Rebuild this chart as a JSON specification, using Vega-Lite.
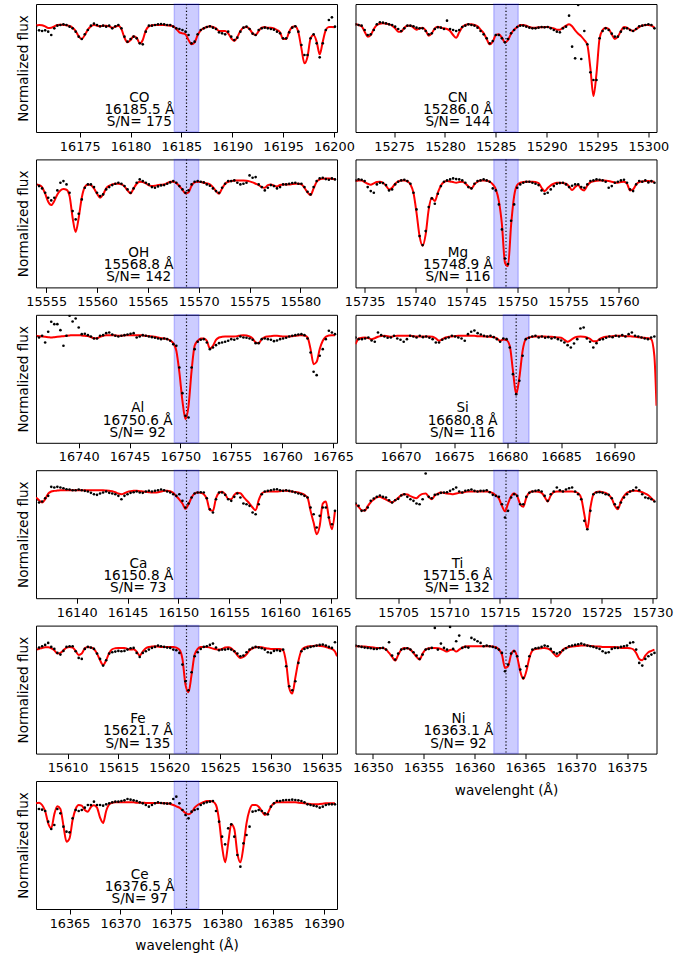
{"$schema":"https://vega.github.io/schema/vega-lite/v6.json",
"padding":{"left":16,"top":2,"right":0,"bottom":0},
"columns":2,"spacing":{"row":27.4,"column":18.5},"bounds":"flush",
"data":{"name":"s"},
"datasets":{"s":[
{"p":"CO","c":16185.5,"lo":16184.3,"hi":16186.7,"lab":["CO","16185.5 Å","S/N= 175"],
"x":[16170.7,16171,16171.3,16171.6,16171.9,16172.2,16172.5,16172.8,16173.1,16173.4,16173.7,16174,16174.3,16174.6,16174.9,16175.2,16175.5,16175.8,16176.1,16176.4,16176.7,16177,16177.3,16177.6,16177.9,16178.2,16178.5,16178.8,16179.1,16179.4,16179.7,16180,16180.3,16180.6,16180.9,16181.2,16181.5,16181.8,16182.1,16182.4,16182.7,16183,16183.3,16183.6,16183.9,16184.2,16184.5,16184.8,16185.1,16185.4,16185.7,16186,16186.3,16186.6,16186.9,16187.2,16187.5,16187.8,16188.1,16188.4,16188.7,16189,16189.3,16189.6,16189.9,16190.2,16190.5,16190.8,16191.1,16191.4,16191.7,16192,16192.3,16192.6,16192.9,16193.2,16193.5,16193.8,16194.1,16194.4,16194.7,16195,16195.3,16195.6,16195.9,16196.2,16196.5,16196.8,16197.1,16197.4,16197.7,16198,16198.3,16198.6,16198.9,16199.2,16199.5,16199.8,16200.1],
"m":[0.997,1.003,1.0,0.991,0.976,0.979,0.991,1.003,1.006,1.003,1.0,0.994,0.979,0.949,0.901,0.877,0.913,0.961,0.991,1.003,0.997,0.991,0.997,0.997,0.991,0.979,0.988,0.997,0.967,0.889,0.847,0.868,0.901,0.889,0.838,0.868,0.955,0.991,1.0,1.003,1.003,1.003,1.003,1.0,0.997,0.991,0.967,0.937,0.928,0.919,0.868,0.829,0.847,0.913,0.955,0.973,0.985,0.991,0.985,0.973,0.949,0.949,0.949,0.928,0.883,0.859,0.895,0.949,0.979,0.985,0.967,0.928,0.913,0.949,0.979,0.985,0.979,0.979,0.973,0.958,0.937,0.877,0.877,0.943,0.985,0.991,0.937,0.793,0.658,0.718,0.883,0.913,0.853,0.739,0.853,0.958,0.985,0.985,0.982],
"o":[0.988,0.955,0.949,0.955,0.943,0.913,0.973,0.997,1.003,1.009,1.003,0.988,0.973,0.943,0.898,0.877,0.919,0.958,0.997,1.015,1.003,0.991,0.997,0.988,0.997,0.973,0.991,1.003,0.973,0.898,0.853,0.877,0.898,0.883,0.838,0.829,0.943,0.997,0.997,1.003,1.009,1.012,1.009,1.003,1.003,0.988,0.973,0.967,0.958,0.943,0.913,0.838,0.853,0.919,0.958,0.973,0.985,0.991,0.979,0.967,0.937,0.928,0.919,0.943,0.898,0.868,0.889,0.943,0.979,0.988,0.967,0.925,0.913,0.958,0.973,0.979,0.973,0.967,0.961,0.943,0.928,0.883,0.883,0.937,0.979,0.991,0.943,0.823,0.733,0.733,0.883,0.919,0.838,0.712,0.838,0.958,1.048,1.072,0.988]},
{"p":"CN","c":15286.0,"lo":15284.8,"hi":15287.2,"lab":["CN","15286.0 Å","S/N= 144"],
"x":[15271.2,15271.5,15271.8,15272.1,15272.4,15272.7,15273,15273.3,15273.6,15273.9,15274.2,15274.5,15274.8,15275.1,15275.4,15275.7,15276,15276.3,15276.6,15276.9,15277.2,15277.5,15277.8,15278.1,15278.4,15278.7,15279,15279.3,15279.6,15279.9,15280.2,15280.5,15280.8,15281.1,15281.4,15281.7,15282,15282.3,15282.6,15282.9,15283.2,15283.5,15283.8,15284.1,15284.4,15284.7,15285,15285.3,15285.6,15285.9,15286.2,15286.5,15286.8,15287.1,15287.4,15287.7,15288,15288.3,15288.6,15288.9,15289.2,15289.5,15289.8,15290.1,15290.4,15290.7,15291,15291.3,15291.6,15291.9,15292.2,15292.5,15292.8,15293.1,15293.4,15293.7,15294,15294.3,15294.6,15294.9,15295.2,15295.5,15295.8,15296.1,15296.4,15296.7,15297,15297.3,15297.6,15297.9,15298.2,15298.5,15298.8,15299.1,15299.4,15299.7,15300,15300.3,15300.6],
"m":[1.009,1.003,0.991,0.943,0.898,0.913,0.967,1.003,1.015,1.018,1.015,1.009,0.997,0.973,0.943,0.943,0.979,0.997,0.997,0.979,0.961,0.973,0.979,0.955,0.907,0.928,0.973,0.988,0.979,0.973,0.967,0.949,0.913,0.889,0.937,0.985,1.003,1.009,1.009,1.003,0.991,0.961,0.931,0.877,0.829,0.853,0.913,0.919,0.889,0.847,0.868,0.925,0.961,0.985,1.003,1.003,0.997,0.985,0.979,0.979,0.982,0.982,0.985,0.985,0.979,0.973,0.961,0.961,0.979,0.997,1.009,0.991,0.955,0.925,0.901,0.868,0.823,0.613,0.364,0.568,0.88,0.958,0.979,0.967,0.919,0.877,0.898,0.949,0.985,0.979,0.961,0.949,0.967,0.985,0.997,1.003,1.003,0.997,0.979],
"o":[1.009,1.003,0.997,0.958,0.913,0.919,0.958,1.009,1.027,1.024,1.018,1.009,1.003,0.988,0.967,0.949,0.973,0.997,0.997,0.991,0.979,0.973,0.973,0.949,0.919,0.928,0.967,0.982,0.979,0.967,1.042,0.967,0.958,0.949,0.958,0.985,0.997,1.009,1.003,0.997,0.979,0.949,0.919,0.883,0.838,0.859,0.913,0.913,0.883,0.847,0.877,0.928,0.958,0.985,0.997,0.997,0.988,0.979,0.973,0.973,0.979,0.985,0.982,0.985,0.973,0.958,0.943,0.937,0.973,0.988,1.087,0.808,0.703,1.183,0.697,0.949,0.829,0.577,0.508,0.508,0.883,0.949,0.973,0.958,0.925,0.898,0.898,0.943,0.973,0.973,0.958,0.949,0.967,0.991,0.997,1.003,1.009,1.003,0.973]},
{"p":"OH","c":15568.8,"lo":15567.6,"hi":15570.0,"lab":["OH","15568.8 Å","S/N= 142"],
"x":[15554,15554.3,15554.6,15554.9,15555.2,15555.5,15555.8,15556.1,15556.4,15556.7,15557,15557.3,15557.6,15557.9,15558.2,15558.5,15558.8,15559.1,15559.4,15559.7,15560,15560.3,15560.6,15560.9,15561.2,15561.5,15561.8,15562.1,15562.4,15562.7,15563,15563.3,15563.6,15563.9,15564.2,15564.5,15564.8,15565.1,15565.4,15565.7,15566,15566.3,15566.6,15566.9,15567.2,15567.5,15567.8,15568.1,15568.4,15568.7,15569,15569.3,15569.6,15569.9,15570.2,15570.5,15570.8,15571.1,15571.4,15571.7,15572,15572.3,15572.6,15572.9,15573.2,15573.5,15573.8,15574.1,15574.4,15574.7,15575,15575.3,15575.6,15575.9,15576.2,15576.5,15576.8,15577.1,15577.4,15577.7,15578,15578.3,15578.6,15578.9,15579.2,15579.5,15579.8,15580.1,15580.4,15580.7,15581,15581.3,15581.6,15581.9,15582.2,15582.5,15582.8,15583.1,15583.4],
"m":[0.967,0.961,0.943,0.883,0.811,0.781,0.817,0.877,0.913,0.925,0.919,0.862,0.667,0.538,0.667,0.847,0.943,0.967,0.961,0.931,0.883,0.847,0.877,0.931,0.955,0.967,0.973,0.973,0.967,0.949,0.913,0.886,0.931,0.973,0.991,0.988,0.976,0.958,0.952,0.955,0.961,0.964,0.967,0.979,0.991,0.991,0.979,0.952,0.919,0.886,0.895,0.955,0.985,0.991,0.988,0.982,0.976,0.967,0.943,0.907,0.883,0.931,0.973,0.991,0.997,1.0,1.003,1.003,1.003,1.0,0.994,0.985,0.973,0.961,0.943,0.937,0.961,0.967,0.955,0.949,0.961,0.967,0.967,0.967,0.970,0.973,0.973,0.967,0.937,0.895,0.871,0.931,0.991,1.012,1.018,1.021,1.021,1.018,1.012],
"o":[0.967,0.952,0.931,0.892,0.847,0.823,0.847,0.913,0.982,0.997,0.967,0.892,0.727,0.652,0.703,0.832,0.937,0.967,0.967,0.943,0.892,0.862,0.877,0.922,0.943,0.961,0.973,0.982,0.973,0.952,0.922,0.892,0.931,0.982,1.012,0.997,0.982,0.967,0.943,0.937,0.949,0.958,0.961,0.973,0.985,0.997,0.982,0.952,0.922,0.892,0.913,0.967,0.991,0.997,0.991,0.985,0.967,0.955,0.931,0.907,0.892,0.937,0.973,0.997,0.997,1.003,0.982,0.967,0.973,0.982,1.048,1.027,1.033,0.967,0.943,0.913,0.937,0.961,0.952,0.931,0.943,0.967,0.967,0.973,0.979,0.982,0.973,0.973,0.943,0.901,0.877,0.943,0.997,1.021,1.027,1.015,1.009,1.021,1.012]},
{"p":"Mg","c":15748.9,"lo":15747.7,"hi":15750.1,"lab":["Mg","15748.9 Å","S/N= 116"],
"x":[15734.1,15734.4,15734.7,15735,15735.3,15735.6,15735.9,15736.2,15736.5,15736.8,15737.1,15737.4,15737.7,15738,15738.3,15738.6,15738.9,15739.2,15739.5,15739.8,15740.1,15740.4,15740.7,15741,15741.3,15741.6,15741.9,15742.2,15742.5,15742.8,15743.1,15743.4,15743.7,15744,15744.3,15744.6,15744.9,15745.2,15745.5,15745.8,15746.1,15746.4,15746.7,15747,15747.3,15747.6,15747.9,15748.2,15748.5,15748.8,15749.1,15749.4,15749.7,15750,15750.3,15750.6,15750.9,15751.2,15751.5,15751.8,15752.1,15752.4,15752.7,15753,15753.3,15753.6,15753.9,15754.2,15754.5,15754.8,15755.1,15755.4,15755.7,15756,15756.3,15756.6,15756.9,15757.2,15757.5,15757.8,15758.1,15758.4,15758.7,15759,15759.3,15759.6,15759.9,15760.2,15760.5,15760.8,15761.1,15761.4,15761.7,15762,15762.3,15762.6,15762.9,15763.2,15763.5],
"m":[0.997,1.003,1.003,0.988,0.973,0.964,0.976,0.988,0.991,0.982,0.955,0.922,0.937,0.973,0.994,1.003,1.003,0.994,0.967,0.892,0.712,0.502,0.415,0.517,0.742,0.847,0.817,0.892,0.958,0.988,0.997,0.994,0.988,0.982,0.988,0.991,0.976,0.949,0.931,0.967,0.991,1.003,1.003,1.0,0.991,0.967,0.922,0.817,0.607,0.262,0.232,0.60,0.862,0.961,0.982,0.988,0.991,0.991,0.991,0.988,0.979,0.937,0.907,0.934,0.958,0.973,0.982,0.982,0.979,0.973,0.949,0.916,0.943,0.961,0.925,0.913,0.958,0.985,0.994,1.0,1.003,1.003,1.0,0.997,0.991,0.985,0.982,0.988,0.991,0.973,0.913,0.922,0.967,0.988,0.994,0.997,0.997,0.994,0.991],
"o":[1.003,1.012,1.009,0.997,0.943,0.907,0.892,0.967,0.982,0.979,0.961,0.913,0.922,0.967,0.991,1.003,1.009,0.997,0.973,0.892,0.742,0.502,0.421,0.547,0.763,0.841,0.793,0.883,0.952,0.991,1.003,1.012,1.021,1.015,1.012,1.003,0.982,0.943,0.931,0.973,0.997,1.003,1.012,1.003,0.991,0.931,0.913,0.787,0.562,0.30,0.25,0.64,0.787,0.937,0.967,0.982,0.991,0.991,0.982,0.973,0.961,0.913,0.883,0.892,0.922,0.952,0.973,0.979,0.982,0.967,0.943,0.955,0.967,0.967,0.943,0.937,0.967,0.997,1.003,1.012,1.009,1.003,0.991,0.937,0.952,0.982,0.991,1.003,1.009,0.982,0.922,0.907,0.967,0.997,0.991,1.003,0.985,0.997,0.982]},
{"p":"Al","c":16750.6,"lo":16749.4,"hi":16751.8,"lab":["Al","16750.6 Å","S/N= 92  "],
"x":[16735.8,16736.1,16736.4,16736.7,16737,16737.3,16737.6,16737.9,16738.2,16738.5,16738.8,16739.1,16739.4,16739.7,16740,16740.3,16740.6,16740.9,16741.2,16741.5,16741.8,16742.1,16742.4,16742.7,16743,16743.3,16743.6,16743.9,16744.2,16744.5,16744.8,16745.1,16745.4,16745.7,16746,16746.3,16746.6,16746.9,16747.2,16747.5,16747.8,16748.1,16748.4,16748.7,16749,16749.3,16749.6,16749.9,16750.2,16750.5,16750.8,16751.1,16751.4,16751.7,16752,16752.3,16752.6,16752.9,16753.2,16753.5,16753.8,16754.1,16754.4,16754.7,16755,16755.3,16755.6,16755.9,16756.2,16756.5,16756.8,16757.1,16757.4,16757.7,16758,16758.3,16758.6,16758.9,16759.2,16759.5,16759.8,16760.1,16760.4,16760.7,16761,16761.3,16761.6,16761.9,16762.2,16762.5,16762.8,16763.1,16763.4,16763.7,16764,16764.3,16764.6,16764.9,16765.2],
"m":[1.003,1.0,0.997,0.994,0.991,0.988,0.991,0.994,0.997,1.0,1.003,1.006,1.009,1.009,1.009,1.006,1.003,1.0,0.991,0.982,0.982,0.994,1.003,1.009,1.009,1.009,1.006,1.003,1.003,1.006,1.009,1.009,1.009,1.009,1.009,1.006,1.003,1.0,0.997,0.994,0.988,0.982,0.979,0.973,0.961,0.937,0.868,0.673,0.418,0.253,0.373,0.688,0.913,0.958,0.979,0.979,0.958,0.889,0.913,0.967,0.988,0.994,0.997,0.997,0.997,0.997,1.0,1.006,1.009,1.006,0.997,0.979,0.943,0.937,0.973,0.991,0.997,1.0,1.003,1.003,1.0,0.997,0.997,0.997,1.0,1.003,1.006,1.009,1.006,0.988,0.883,0.748,0.769,0.883,0.958,0.994,1.006,1.009,1.009],
"o":[0.997,0.988,1.003,0.943,1.039,1.129,1.108,1.108,1.054,0.913,1.003,1.183,1.132,1.159,1.078,1.018,1.021,1.009,0.997,0.979,0.979,1.003,1.009,1.027,1.033,1.015,1.003,0.997,1.003,1.009,1.015,1.021,1.027,0.988,0.997,1.009,1.003,0.997,0.991,0.985,0.979,0.973,0.979,0.973,0.958,0.928,0.913,0.718,0.487,0.283,0.268,0.718,0.883,0.949,0.967,0.973,0.943,0.883,0.898,0.919,0.937,0.943,0.949,0.958,0.973,0.967,0.979,0.997,0.988,0.985,0.979,0.967,0.937,0.937,0.973,0.979,0.973,0.967,0.955,0.961,0.973,0.979,0.985,0.997,1.003,1.009,1.015,1.018,1.009,0.979,0.853,0.679,0.649,0.823,0.883,0.973,1.048,1.033,1.018]},
{"p":"Si","c":16680.8,"lo":16679.6,"hi":16682.0,"lab":["Si","16680.8 Å","S/N= 116"],
"x":[16665.8,16666.1,16666.4,16666.7,16667,16667.3,16667.6,16667.9,16668.2,16668.5,16668.8,16669.1,16669.4,16669.7,16670,16670.3,16670.6,16670.9,16671.2,16671.5,16671.8,16672.1,16672.4,16672.7,16673,16673.3,16673.6,16673.9,16674.2,16674.5,16674.8,16675.1,16675.4,16675.7,16676,16676.3,16676.6,16676.9,16677.2,16677.5,16677.8,16678.1,16678.4,16678.7,16679,16679.3,16679.6,16679.9,16680.2,16680.5,16680.8,16681.1,16681.4,16681.7,16682,16682.3,16682.6,16682.9,16683.2,16683.5,16683.8,16684.1,16684.4,16684.7,16685,16685.3,16685.6,16685.9,16686.2,16686.5,16686.8,16687.1,16687.4,16687.7,16688,16688.3,16688.6,16688.9,16689.2,16689.5,16689.8,16690.1,16690.4,16690.7,16691,16691.3,16691.6,16691.9,16692.2,16692.5,16692.8,16693.1,16693.4,16693.7,16693.9],
"m":[0.928,0.979,0.985,0.988,0.982,0.973,0.982,0.994,1.0,1.003,1.0,0.994,1.0,1.003,1.003,1.003,1.003,1.003,1.0,0.997,0.997,0.997,0.997,0.997,0.994,0.979,0.958,0.973,0.988,0.994,0.997,1.0,1.003,1.003,1.003,1.003,1.003,1.003,1.0,1.0,0.997,0.997,0.994,0.991,0.979,0.958,0.970,0.964,0.913,0.688,0.478,0.628,0.868,0.973,0.988,0.994,0.997,0.997,0.997,0.997,0.994,0.994,0.991,0.988,0.985,0.967,0.949,0.964,0.985,0.994,0.997,0.994,0.988,0.976,0.955,0.955,0.976,0.988,0.994,0.997,1.0,1.003,1.003,1.003,1.0,1.0,0.997,0.994,0.991,0.988,0.985,0.982,0.973,0.823,0.373],
"o":[0.988,0.973,0.973,0.979,0.988,0.961,0.949,1.033,1.009,0.997,0.985,0.988,1.003,0.979,0.967,0.949,0.973,1.003,0.997,0.988,1.003,0.991,0.997,0.985,0.973,0.943,0.943,0.967,0.979,0.988,1.003,0.997,0.988,0.979,0.958,1.018,1.039,1.051,1.027,1.015,1.003,0.997,1.003,0.991,0.973,0.949,0.979,0.973,0.898,0.658,0.478,0.598,0.823,0.973,0.985,0.997,1.003,0.988,0.997,0.985,0.991,0.979,0.988,0.973,0.961,0.943,0.919,0.898,0.934,0.973,1.069,1.078,0.979,0.949,0.898,0.937,0.967,0.973,0.985,0.997,0.991,1.003,0.997,1.009,0.997,1.018,1.033,1.003,0.997,0.988,0.979,0.973,0.988,0.997]},
{"p":"Ca","c":16150.8,"lo":16149.6,"hi":16152.0,"lab":["Ca","16150.8 Å","S/N= 73  "],
"x":[16136,16136.3,16136.6,16136.9,16137.2,16137.5,16137.8,16138.1,16138.4,16138.7,16139,16139.3,16139.6,16139.9,16140.2,16140.5,16140.8,16141.1,16141.4,16141.7,16142,16142.3,16142.6,16142.9,16143.2,16143.5,16143.8,16144.1,16144.4,16144.7,16145,16145.3,16145.6,16145.9,16146.2,16146.5,16146.8,16147.1,16147.4,16147.7,16148,16148.3,16148.6,16148.9,16149.2,16149.5,16149.8,16150.1,16150.4,16150.7,16151,16151.3,16151.6,16151.9,16152.2,16152.5,16152.8,16153.1,16153.4,16153.7,16154,16154.3,16154.6,16154.9,16155.2,16155.5,16155.8,16156.1,16156.4,16156.7,16157,16157.3,16157.6,16157.9,16158.2,16158.5,16158.8,16159.1,16159.4,16159.7,16160,16160.3,16160.6,16160.9,16161.2,16161.5,16161.8,16162.1,16162.4,16162.7,16163,16163.3,16163.6,16163.9,16164.2,16164.5,16164.8,16165.1,16165.4],
"m":[0.946,0.922,0.901,0.931,0.982,1.0,1.006,1.009,1.012,1.012,1.012,1.012,1.012,1.012,1.012,1.012,1.012,1.012,1.012,1.012,1.012,1.012,1.012,1.009,1.006,1.003,0.994,0.982,0.976,0.985,0.997,1.003,1.006,1.006,1.003,1.0,0.997,0.994,0.991,0.991,0.994,1.0,1.006,1.006,1.003,0.988,0.958,0.928,0.892,0.844,0.886,0.946,0.982,0.991,0.988,0.976,0.931,0.832,0.826,0.940,0.988,0.997,0.976,0.934,0.931,0.970,0.988,0.985,0.952,0.922,0.892,0.856,0.832,0.922,0.982,0.997,1.0,1.0,1.0,1.0,1.003,1.006,1.006,1.003,1.0,0.997,0.991,0.982,0.970,0.946,0.826,0.721,0.616,0.691,0.892,0.910,0.766,0.661,0.826],
"o":[0.922,0.901,0.910,0.940,0.961,1.042,1.036,1.042,1.036,1.030,1.021,1.018,1.012,1.012,1.018,1.012,1.006,1.0,0.988,0.976,0.970,0.982,0.991,1.0,0.988,0.982,0.976,0.961,0.931,0.961,0.976,0.988,0.994,1.0,0.991,0.988,1.0,1.006,1.0,1.006,1.012,1.018,1.012,1.0,0.991,0.976,0.961,0.976,0.916,0.856,0.892,0.946,0.982,0.991,0.994,0.991,0.940,0.841,0.811,0.931,0.991,0.991,0.970,0.931,0.916,0.952,0.982,0.946,0.892,0.886,0.871,0.811,0.796,0.886,0.976,1.0,1.006,1.012,1.018,1.021,1.012,1.006,1.012,1.006,1.0,0.991,0.982,0.976,0.961,0.946,0.856,0.796,0.676,0.781,0.856,0.856,0.766,0.706,0.826]},
{"p":"Ti","c":15715.6,"lo":15714.4,"hi":15716.8,"lab":["Ti","15715.6 Å","S/N= 132"],
"x":[15700.8,15701.1,15701.4,15701.7,15702,15702.3,15702.6,15702.9,15703.2,15703.5,15703.8,15704.1,15704.4,15704.7,15705,15705.3,15705.6,15705.9,15706.2,15706.5,15706.8,15707.1,15707.4,15707.7,15708,15708.3,15708.6,15708.9,15709.2,15709.5,15709.8,15710.1,15710.4,15710.7,15711,15711.3,15711.6,15711.9,15712.2,15712.5,15712.8,15713.1,15713.4,15713.7,15714,15714.3,15714.6,15714.9,15715.2,15715.5,15715.8,15716.1,15716.4,15716.7,15717,15717.3,15717.6,15717.9,15718.2,15718.5,15718.8,15719.1,15719.4,15719.7,15720,15720.3,15720.6,15720.9,15721.2,15721.5,15721.8,15722.1,15722.4,15722.7,15723,15723.3,15723.6,15723.9,15724.2,15724.5,15724.8,15725.1,15725.4,15725.7,15726,15726.3,15726.6,15726.9,15727.2,15727.5,15727.8,15728.1,15728.4,15728.7,15729,15729.3,15729.6,15729.9,15730.2],
"m":[0.886,0.862,0.832,0.826,0.868,0.904,0.928,0.949,0.952,0.940,0.928,0.913,0.901,0.922,0.943,0.967,0.976,0.973,0.958,0.946,0.940,0.964,0.979,0.982,0.952,0.931,0.964,0.982,0.991,0.988,0.982,0.979,0.976,0.982,0.988,0.991,0.997,1.0,1.0,1.0,1.0,1.0,1.0,1.0,0.997,0.985,0.964,0.937,0.871,0.823,0.892,0.958,0.985,0.958,0.886,0.862,0.946,0.991,1.0,1.0,0.997,0.988,0.952,0.910,0.964,0.994,1.0,1.0,1.0,1.0,1.0,1.0,0.997,0.985,0.940,0.796,0.661,0.856,0.976,0.997,1.0,0.994,0.988,0.970,0.937,0.871,0.841,0.910,0.958,0.988,1.0,1.006,1.006,1.003,0.994,0.982,0.967,0.940,0.916],
"o":[0.892,0.871,0.826,0.832,0.856,0.916,0.937,0.952,0.964,0.952,0.946,0.922,0.901,0.922,0.934,0.964,0.976,0.952,0.931,0.916,0.892,0.886,0.931,1.162,0.952,0.940,0.970,0.976,0.988,0.991,0.994,1.006,1.021,1.036,1.0,0.991,1.006,1.012,1.018,1.006,1.0,1.006,1.006,1.012,0.994,0.970,0.961,0.952,0.886,0.766,0.826,0.946,0.976,0.961,0.886,0.886,0.952,0.988,1.0,1.006,1.012,1.0,0.961,0.916,0.976,1.0,1.036,1.012,1.0,1.018,1.030,1.036,1.0,0.976,0.931,0.736,0.661,0.826,0.976,0.991,0.994,0.988,0.976,0.970,0.940,0.886,0.856,0.901,0.946,0.976,1.0,1.012,1.036,1.012,0.976,0.946,0.940,0.931,0.910]},
{"p":"Fe","c":15621.7,"lo":15620.5,"hi":15622.9,"lab":["Fe","15621.7 Å","S/N= 135"],
"x":[15606.9,15607.2,15607.5,15607.8,15608.1,15608.4,15608.7,15609,15609.3,15609.6,15609.9,15610.2,15610.5,15610.8,15611.1,15611.4,15611.7,15612,15612.3,15612.6,15612.9,15613.2,15613.5,15613.8,15614.1,15614.4,15614.7,15615,15615.3,15615.6,15615.9,15616.2,15616.5,15616.8,15617.1,15617.4,15617.7,15618,15618.3,15618.6,15618.9,15619.2,15619.5,15619.8,15620.1,15620.4,15620.7,15621,15621.3,15621.6,15621.9,15622.2,15622.5,15622.8,15623.1,15623.4,15623.7,15624,15624.3,15624.6,15624.9,15625.2,15625.5,15625.8,15626.1,15626.4,15626.7,15627,15627.3,15627.6,15627.9,15628.2,15628.5,15628.8,15629.1,15629.4,15629.7,15630,15630.3,15630.6,15630.9,15631.2,15631.5,15631.8,15632.1,15632.4,15632.7,15633,15633.3,15633.6,15633.9,15634.2,15634.5,15634.8,15635.1,15635.4,15635.7,15636,15636.3,15636.5],
"m":[0.976,0.982,0.991,0.997,0.997,0.988,0.970,0.940,0.946,0.970,0.994,1.0,0.994,0.964,0.928,0.940,0.988,1.0,0.994,0.982,0.940,0.880,0.838,0.880,0.946,0.979,0.988,0.991,0.991,0.991,0.982,0.976,0.979,0.958,0.922,0.958,0.988,1.0,1.003,1.006,1.003,1.0,1.0,1.0,1.0,1.0,0.994,0.976,0.892,0.661,0.592,0.751,0.931,0.982,1.0,1.0,1.0,0.994,0.985,0.979,0.976,0.982,0.994,0.997,0.988,0.961,0.925,0.901,0.910,0.934,0.970,0.988,0.997,1.0,0.997,0.991,0.985,0.982,0.982,0.982,0.982,0.970,0.856,0.631,0.580,0.721,0.871,0.967,0.994,1.003,1.006,1.009,1.012,1.009,1.006,1.0,0.991,0.982,0.958,0.916],
"o":[0.976,0.994,1.006,1.018,1.036,1.0,0.982,0.946,0.931,0.964,1.0,1.006,1.006,0.961,0.901,0.892,0.982,1.0,0.994,0.982,0.940,0.892,0.832,0.880,0.940,0.952,0.958,0.964,0.961,0.964,0.976,0.988,0.991,0.946,0.910,0.946,0.961,0.976,0.991,1.0,1.012,1.006,1.0,0.994,0.991,0.976,0.970,0.946,0.841,0.691,0.610,0.772,0.916,0.952,0.982,1.0,1.006,1.018,1.030,0.994,0.970,0.976,0.976,0.982,0.976,0.961,0.940,0.916,0.922,0.952,0.976,0.991,1.0,0.994,0.988,0.976,0.952,0.946,0.964,0.970,0.964,0.976,0.826,0.646,0.610,0.691,0.856,0.961,0.982,0.991,1.0,1.006,1.012,1.018,1.021,1.012,1.0,0.991,1.042]},
{"p":"Ni","c":16363.1,"lo":16361.9,"hi":16364.3,"lab":["Ni","16363.1 Å","S/N= 92  "],
"x":[16348.3,16348.6,16348.9,16349.2,16349.5,16349.8,16350.1,16350.4,16350.7,16351,16351.3,16351.6,16351.9,16352.2,16352.5,16352.8,16353.1,16353.4,16353.7,16354,16354.3,16354.6,16354.9,16355.2,16355.5,16355.8,16356.1,16356.4,16356.7,16357,16357.3,16357.6,16357.9,16358.2,16358.5,16358.8,16359.1,16359.4,16359.7,16360,16360.3,16360.6,16360.9,16361.2,16361.5,16361.8,16362.1,16362.4,16362.7,16363,16363.3,16363.6,16363.9,16364.2,16364.5,16364.8,16365.1,16365.4,16365.7,16366,16366.3,16366.6,16366.9,16367.2,16367.5,16367.8,16368.1,16368.4,16368.7,16369,16369.3,16369.6,16369.9,16370.2,16370.5,16370.8,16371.1,16371.4,16371.7,16372,16372.3,16372.6,16372.9,16373.2,16373.5,16373.8,16374.1,16374.4,16374.7,16375,16375.3,16375.6,16375.9,16376.2,16376.5,16376.8,16377.1,16377.4,16377.7],
"m":[1.006,1.006,1.003,1.003,1.0,0.997,0.994,0.991,0.991,0.991,0.976,0.946,0.910,0.877,0.928,0.976,0.991,0.988,0.976,0.946,0.910,0.886,0.940,0.976,0.988,0.991,0.991,0.988,0.982,0.970,0.958,0.973,0.976,0.958,0.976,0.994,1.003,1.006,1.006,1.006,1.006,1.006,1.006,1.006,1.006,1.003,0.997,0.976,0.931,0.811,0.826,0.931,0.967,0.910,0.781,0.712,0.781,0.901,0.967,0.982,0.985,0.988,0.991,0.985,0.970,0.940,0.913,0.937,0.976,0.991,1.0,1.003,1.006,1.009,1.012,1.012,1.012,1.009,1.006,1.003,1.003,1.0,1.0,1.0,1.0,1.0,0.997,0.991,0.991,0.991,0.988,0.979,0.946,0.892,0.880,0.922,0.952,0.964,0.976],
"o":[1.012,1.006,1.0,0.994,0.991,0.988,0.982,0.982,0.988,0.991,0.976,1.042,0.922,0.886,0.940,0.976,0.982,0.988,0.976,0.952,0.922,0.892,0.931,0.976,0.982,0.991,1.171,0.976,1.030,0.991,0.976,1.180,0.982,1.051,1.102,0.991,1.0,0.994,1.081,1.066,1.051,1.036,1.006,1.012,1.006,1.0,0.991,0.976,0.946,0.781,0.841,0.940,0.961,0.916,0.796,0.721,0.826,0.916,0.976,0.988,0.991,1.0,1.012,1.006,0.982,0.952,0.940,0.952,0.970,0.988,1.006,1.012,1.018,1.024,1.030,1.021,1.012,1.006,1.0,0.991,0.982,0.961,0.946,0.952,0.982,0.991,0.991,1.0,1.006,1.012,1.036,1.042,0.976,0.856,0.832,0.892,0.916,0.931,0.946]},
{"p":"Ce","c":16376.5,"lo":16375.3,"hi":16377.7,"lab":["Ce","16376.5 Å","S/N= 97  "],
"x":[16361.7,16362,16362.3,16362.6,16362.9,16363.2,16363.5,16363.8,16364.1,16364.4,16364.7,16365,16365.3,16365.6,16365.9,16366.2,16366.5,16366.8,16367.1,16367.4,16367.7,16368,16368.3,16368.6,16368.9,16369.2,16369.5,16369.8,16370.1,16370.4,16370.7,16371,16371.3,16371.6,16371.9,16372.2,16372.5,16372.8,16373.1,16373.4,16373.7,16374,16374.3,16374.6,16374.9,16375.2,16375.5,16375.8,16376.1,16376.4,16376.7,16377,16377.3,16377.6,16377.9,16378.2,16378.5,16378.8,16379.1,16379.4,16379.7,16380,16380.3,16380.6,16380.9,16381.2,16381.5,16381.8,16382.1,16382.4,16382.7,16383,16383.3,16383.6,16383.9,16384.2,16384.5,16384.8,16385.1,16385.4,16385.7,16386,16386.3,16386.6,16386.9,16387.2,16387.5,16387.8,16388.1,16388.4,16388.7,16389,16389.3,16389.6,16389.9,16390.2,16390.5,16390.8,16391.1],
"m":[0.991,0.997,0.976,0.922,0.811,0.766,0.892,0.964,0.940,0.790,0.646,0.676,0.841,0.940,0.976,0.970,0.931,0.916,0.958,0.973,0.952,0.862,0.814,0.922,0.982,0.997,1.0,1.0,1.0,1.0,1.0,1.0,1.0,0.997,0.997,0.997,0.994,0.994,0.994,0.994,0.994,0.994,0.991,0.991,0.985,0.976,0.964,0.952,0.928,0.904,0.892,0.910,0.952,0.976,0.991,1.003,1.012,1.012,1.006,0.976,0.841,0.601,0.460,0.631,0.802,0.760,0.541,0.460,0.601,0.811,0.931,0.976,0.976,0.961,0.922,0.886,0.904,0.961,0.991,1.0,1.0,1.0,1.0,1.0,1.0,1.0,0.997,0.994,0.991,0.988,0.985,0.982,0.982,0.985,0.988,0.991,0.991,0.991,0.991],
"o":[0.940,0.940,0.934,0.922,0.826,0.760,0.796,0.940,0.901,0.781,0.736,0.730,0.856,0.931,0.922,0.931,0.952,0.976,0.976,1.006,0.976,0.976,0.970,0.982,0.991,1.0,1.006,1.006,1.012,1.018,1.030,1.024,1.018,1.012,1.0,0.991,0.976,0.961,0.976,0.991,1.0,0.994,0.991,0.988,0.991,1.030,1.051,0.991,0.931,0.886,0.856,0.916,0.931,0.940,0.976,0.991,1.0,1.006,1.012,0.922,0.826,0.691,0.622,0.766,0.802,0.691,0.526,0.421,0.631,0.706,0.781,0.916,0.922,0.931,0.922,0.901,0.892,0.961,0.991,1.012,1.012,1.018,1.021,1.021,1.024,1.021,1.018,1.012,1.0,0.982,0.976,0.970,0.964,0.952,0.961,0.976,0.982,0.982,0.982]}
]},
"concat":[
{"width":301,"height":128,"transform":[{"filter":"datum.p==='CO'"}],"layer":[
{"mark":{"type":"rect","fill":"#0000ff","fillOpacity":0.2,"stroke":"#0000ff","strokeOpacity":0.2,"strokeWidth":1.5},"encoding":{"x":{"field":"lo","type":"quantitative","scale":{"domain":[16170.7,16200.3],"nice":false,"zero":false},"title":null},"x2":{"field":"hi"}}},
{"mark":{"type":"rule","color":"#000000","strokeWidth":1.2,"strokeDash":[1.2,2.2]},"encoding":{"x":{"field":"c","type":"quantitative","scale":{"domain":[16170.7,16200.3],"nice":false,"zero":false},"title":null}}},
{"transform":[{"flatten":["x","m","o"]}],"mark":{"type":"line","color":"#ff0000","strokeWidth":2,"interpolate":"monotone","clip":true},"encoding":{"x":{"field":"x","type":"quantitative","scale":{"domain":[16170.7,16200.3],"nice":false,"zero":false},"title":null},"y":{"field":"m","type":"quantitative","scale":{"domain":[0.04,1.192],"nice":false,"zero":false},"title":"Normalized flux","axis":{"labels":false,"ticks":false,"domain":false,"titlePadding":5.4}}}},
{"transform":[{"flatten":["x","m","o"]}],"mark":{"type":"circle","color":"#000000","opacity":1,"size":7,"clip":true},"encoding":{"x":{"field":"x","type":"quantitative","scale":{"domain":[16170.7,16200.3],"nice":false,"zero":false},"title":null},"y":{"field":"o","type":"quantitative","scale":{"domain":[0.04,1.192],"nice":false,"zero":false},"title":"Normalized flux","axis":{"labels":false,"ticks":false,"domain":false,"titlePadding":5.4}}}},
{"mark":{"type":"text","fontSize":13.6,"lineHeight":12.2,"baseline":"alphabetic","align":"center","color":"#000000","font":"DejaVu Sans"},"encoding":{"x":{"datum":16180.86,"type":"quantitative","scale":{"domain":[16170.7,16200.3],"nice":false,"zero":false},"title":null},"y":{"datum":0.313,"type":"quantitative","scale":{"domain":[0.04,1.192],"nice":false,"zero":false},"title":"Normalized flux","axis":{"labels":false,"ticks":false,"domain":false,"titlePadding":5.4}},"text":{"field":"lab","type":"nominal"}}}
]},
{"width":301,"height":128,"transform":[{"filter":"datum.p==='CN'"}],"layer":[
{"mark":{"type":"rect","fill":"#0000ff","fillOpacity":0.2,"stroke":"#0000ff","strokeOpacity":0.2,"strokeWidth":1.5},"encoding":{"x":{"field":"lo","type":"quantitative","scale":{"domain":[15271.2,15300.8],"nice":false,"zero":false},"title":null},"x2":{"field":"hi"}}},
{"mark":{"type":"rule","color":"#000000","strokeWidth":1.2,"strokeDash":[1.2,2.2]},"encoding":{"x":{"field":"c","type":"quantitative","scale":{"domain":[15271.2,15300.8],"nice":false,"zero":false},"title":null}}},
{"transform":[{"flatten":["x","m","o"]}],"mark":{"type":"line","color":"#ff0000","strokeWidth":2,"interpolate":"monotone","clip":true},"encoding":{"x":{"field":"x","type":"quantitative","scale":{"domain":[15271.2,15300.8],"nice":false,"zero":false},"title":null},"y":{"field":"m","type":"quantitative","scale":{"domain":[0.04,1.192],"nice":false,"zero":false},"title":null,"axis":null}}},
{"transform":[{"flatten":["x","m","o"]}],"mark":{"type":"circle","color":"#000000","opacity":1,"size":7,"clip":true},"encoding":{"x":{"field":"x","type":"quantitative","scale":{"domain":[15271.2,15300.8],"nice":false,"zero":false},"title":null},"y":{"field":"o","type":"quantitative","scale":{"domain":[0.04,1.192],"nice":false,"zero":false},"title":null,"axis":null}}},
{"mark":{"type":"text","fontSize":13.6,"lineHeight":12.2,"baseline":"alphabetic","align":"center","color":"#000000","font":"DejaVu Sans"},"encoding":{"x":{"datum":15281.27,"type":"quantitative","scale":{"domain":[15271.2,15300.8],"nice":false,"zero":false},"title":null},"y":{"datum":0.313,"type":"quantitative","scale":{"domain":[0.04,1.192],"nice":false,"zero":false},"title":null,"axis":null},"text":{"field":"lab","type":"nominal"}}}
]},
{"width":301,"height":128,"transform":[{"filter":"datum.p==='OH'"}],"layer":[
{"mark":{"type":"rect","fill":"#0000ff","fillOpacity":0.2,"stroke":"#0000ff","strokeOpacity":0.2,"strokeWidth":1.5},"encoding":{"x":{"field":"lo","type":"quantitative","scale":{"domain":[15554.0,15583.6],"nice":false,"zero":false},"title":null},"x2":{"field":"hi"}}},
{"mark":{"type":"rule","color":"#000000","strokeWidth":1.2,"strokeDash":[1.2,2.2]},"encoding":{"x":{"field":"c","type":"quantitative","scale":{"domain":[15554.0,15583.6],"nice":false,"zero":false},"title":null}}},
{"transform":[{"flatten":["x","m","o"]}],"mark":{"type":"line","color":"#ff0000","strokeWidth":2,"interpolate":"monotone","clip":true},"encoding":{"x":{"field":"x","type":"quantitative","scale":{"domain":[15554.0,15583.6],"nice":false,"zero":false},"title":null},"y":{"field":"m","type":"quantitative","scale":{"domain":[0.04,1.192],"nice":false,"zero":false},"title":"Normalized flux","axis":{"labels":false,"ticks":false,"domain":false,"titlePadding":5.4}}}},
{"transform":[{"flatten":["x","m","o"]}],"mark":{"type":"circle","color":"#000000","opacity":1,"size":7,"clip":true},"encoding":{"x":{"field":"x","type":"quantitative","scale":{"domain":[15554.0,15583.6],"nice":false,"zero":false},"title":null},"y":{"field":"o","type":"quantitative","scale":{"domain":[0.04,1.192],"nice":false,"zero":false},"title":"Normalized flux","axis":{"labels":false,"ticks":false,"domain":false,"titlePadding":5.4}}}},
{"mark":{"type":"text","fontSize":13.6,"lineHeight":12.2,"baseline":"alphabetic","align":"center","color":"#000000","font":"DejaVu Sans"},"encoding":{"x":{"datum":15564.1,"type":"quantitative","scale":{"domain":[15554.0,15583.6],"nice":false,"zero":false},"title":null},"y":{"datum":0.313,"type":"quantitative","scale":{"domain":[0.04,1.192],"nice":false,"zero":false},"title":"Normalized flux","axis":{"labels":false,"ticks":false,"domain":false,"titlePadding":5.4}},"text":{"field":"lab","type":"nominal"}}}
]},
{"width":301,"height":128,"transform":[{"filter":"datum.p==='Mg'"}],"layer":[
{"mark":{"type":"rect","fill":"#0000ff","fillOpacity":0.2,"stroke":"#0000ff","strokeOpacity":0.2,"strokeWidth":1.5},"encoding":{"x":{"field":"lo","type":"quantitative","scale":{"domain":[15734.1,15763.7],"nice":false,"zero":false},"title":null},"x2":{"field":"hi"}}},
{"mark":{"type":"rule","color":"#000000","strokeWidth":1.2,"strokeDash":[1.2,2.2]},"encoding":{"x":{"field":"c","type":"quantitative","scale":{"domain":[15734.1,15763.7],"nice":false,"zero":false},"title":null}}},
{"transform":[{"flatten":["x","m","o"]}],"mark":{"type":"line","color":"#ff0000","strokeWidth":2,"interpolate":"monotone","clip":true},"encoding":{"x":{"field":"x","type":"quantitative","scale":{"domain":[15734.1,15763.7],"nice":false,"zero":false},"title":null},"y":{"field":"m","type":"quantitative","scale":{"domain":[0.04,1.192],"nice":false,"zero":false},"title":null,"axis":null}}},
{"transform":[{"flatten":["x","m","o"]}],"mark":{"type":"circle","color":"#000000","opacity":1,"size":7,"clip":true},"encoding":{"x":{"field":"x","type":"quantitative","scale":{"domain":[15734.1,15763.7],"nice":false,"zero":false},"title":null},"y":{"field":"o","type":"quantitative","scale":{"domain":[0.04,1.192],"nice":false,"zero":false},"title":null,"axis":null}}},
{"mark":{"type":"text","fontSize":13.6,"lineHeight":12.2,"baseline":"alphabetic","align":"center","color":"#000000","font":"DejaVu Sans"},"encoding":{"x":{"datum":15744.17,"type":"quantitative","scale":{"domain":[15734.1,15763.7],"nice":false,"zero":false},"title":null},"y":{"datum":0.313,"type":"quantitative","scale":{"domain":[0.04,1.192],"nice":false,"zero":false},"title":null,"axis":null},"text":{"field":"lab","type":"nominal"}}}
]},
{"width":301,"height":128,"transform":[{"filter":"datum.p==='Al'"}],"layer":[
{"mark":{"type":"rect","fill":"#0000ff","fillOpacity":0.2,"stroke":"#0000ff","strokeOpacity":0.2,"strokeWidth":1.5},"encoding":{"x":{"field":"lo","type":"quantitative","scale":{"domain":[16735.8,16765.4],"nice":false,"zero":false},"title":null},"x2":{"field":"hi"}}},
{"mark":{"type":"rule","color":"#000000","strokeWidth":1.2,"strokeDash":[1.2,2.2]},"encoding":{"x":{"field":"c","type":"quantitative","scale":{"domain":[16735.8,16765.4],"nice":false,"zero":false},"title":null}}},
{"transform":[{"flatten":["x","m","o"]}],"mark":{"type":"line","color":"#ff0000","strokeWidth":2,"interpolate":"monotone","clip":true},"encoding":{"x":{"field":"x","type":"quantitative","scale":{"domain":[16735.8,16765.4],"nice":false,"zero":false},"title":null},"y":{"field":"m","type":"quantitative","scale":{"domain":[0.04,1.192],"nice":false,"zero":false},"title":"Normalized flux","axis":{"labels":false,"ticks":false,"domain":false,"titlePadding":5.4}}}},
{"transform":[{"flatten":["x","m","o"]}],"mark":{"type":"circle","color":"#000000","opacity":1,"size":7,"clip":true},"encoding":{"x":{"field":"x","type":"quantitative","scale":{"domain":[16735.8,16765.4],"nice":false,"zero":false},"title":null},"y":{"field":"o","type":"quantitative","scale":{"domain":[0.04,1.192],"nice":false,"zero":false},"title":"Normalized flux","axis":{"labels":false,"ticks":false,"domain":false,"titlePadding":5.4}}}},
{"mark":{"type":"text","fontSize":13.6,"lineHeight":12.2,"baseline":"alphabetic","align":"center","color":"#000000","font":"DejaVu Sans"},"encoding":{"x":{"datum":16745.8,"type":"quantitative","scale":{"domain":[16735.8,16765.4],"nice":false,"zero":false},"title":null},"y":{"datum":0.313,"type":"quantitative","scale":{"domain":[0.04,1.192],"nice":false,"zero":false},"title":"Normalized flux","axis":{"labels":false,"ticks":false,"domain":false,"titlePadding":5.4}},"text":{"field":"lab","type":"nominal"}}}
]},
{"width":301,"height":128,"transform":[{"filter":"datum.p==='Si'"}],"layer":[
{"mark":{"type":"rect","fill":"#0000ff","fillOpacity":0.2,"stroke":"#0000ff","strokeOpacity":0.2,"strokeWidth":1.5},"encoding":{"x":{"field":"lo","type":"quantitative","scale":{"domain":[16665.8,16693.9],"nice":false,"zero":false},"title":null},"x2":{"field":"hi"}}},
{"mark":{"type":"rule","color":"#000000","strokeWidth":1.2,"strokeDash":[1.2,2.2]},"encoding":{"x":{"field":"c","type":"quantitative","scale":{"domain":[16665.8,16693.9],"nice":false,"zero":false},"title":null}}},
{"transform":[{"flatten":["x","m","o"]}],"mark":{"type":"line","color":"#ff0000","strokeWidth":2,"interpolate":"monotone","clip":true},"encoding":{"x":{"field":"x","type":"quantitative","scale":{"domain":[16665.8,16693.9],"nice":false,"zero":false},"title":null},"y":{"field":"m","type":"quantitative","scale":{"domain":[0.04,1.192],"nice":false,"zero":false},"title":null,"axis":null}}},
{"transform":[{"flatten":["x","m","o"]}],"mark":{"type":"circle","color":"#000000","opacity":1,"size":7,"clip":true},"encoding":{"x":{"field":"x","type":"quantitative","scale":{"domain":[16665.8,16693.9],"nice":false,"zero":false},"title":null},"y":{"field":"o","type":"quantitative","scale":{"domain":[0.04,1.192],"nice":false,"zero":false},"title":null,"axis":null}}},
{"mark":{"type":"text","fontSize":13.6,"lineHeight":12.2,"baseline":"alphabetic","align":"center","color":"#000000","font":"DejaVu Sans"},"encoding":{"x":{"datum":16675.8,"type":"quantitative","scale":{"domain":[16665.8,16693.9],"nice":false,"zero":false},"title":null},"y":{"datum":0.313,"type":"quantitative","scale":{"domain":[0.04,1.192],"nice":false,"zero":false},"title":null,"axis":null},"text":{"field":"lab","type":"nominal"}}}
]},
{"width":301,"height":128,"transform":[{"filter":"datum.p==='Ca'"}],"layer":[
{"mark":{"type":"rect","fill":"#0000ff","fillOpacity":0.2,"stroke":"#0000ff","strokeOpacity":0.2,"strokeWidth":1.5},"encoding":{"x":{"field":"lo","type":"quantitative","scale":{"domain":[16136.0,16165.6],"nice":false,"zero":false},"title":null},"x2":{"field":"hi"}}},
{"mark":{"type":"rule","color":"#000000","strokeWidth":1.2,"strokeDash":[1.2,2.2]},"encoding":{"x":{"field":"c","type":"quantitative","scale":{"domain":[16136.0,16165.6],"nice":false,"zero":false},"title":null}}},
{"transform":[{"flatten":["x","m","o"]}],"mark":{"type":"line","color":"#ff0000","strokeWidth":2,"interpolate":"monotone","clip":true},"encoding":{"x":{"field":"x","type":"quantitative","scale":{"domain":[16136.0,16165.6],"nice":false,"zero":false},"title":null},"y":{"field":"m","type":"quantitative","scale":{"domain":[0.04,1.192],"nice":false,"zero":false},"title":"Normalized flux","axis":{"labels":false,"ticks":false,"domain":false,"titlePadding":5.4}}}},
{"transform":[{"flatten":["x","m","o"]}],"mark":{"type":"circle","color":"#000000","opacity":1,"size":7,"clip":true},"encoding":{"x":{"field":"x","type":"quantitative","scale":{"domain":[16136.0,16165.6],"nice":false,"zero":false},"title":null},"y":{"field":"o","type":"quantitative","scale":{"domain":[0.04,1.192],"nice":false,"zero":false},"title":"Normalized flux","axis":{"labels":false,"ticks":false,"domain":false,"titlePadding":5.4}}}},
{"mark":{"type":"text","fontSize":13.6,"lineHeight":12.2,"baseline":"alphabetic","align":"center","color":"#000000","font":"DejaVu Sans"},"encoding":{"x":{"datum":16146.06,"type":"quantitative","scale":{"domain":[16136.0,16165.6],"nice":false,"zero":false},"title":null},"y":{"datum":0.313,"type":"quantitative","scale":{"domain":[0.04,1.192],"nice":false,"zero":false},"title":"Normalized flux","axis":{"labels":false,"ticks":false,"domain":false,"titlePadding":5.4}},"text":{"field":"lab","type":"nominal"}}}
]},
{"width":301,"height":128,"transform":[{"filter":"datum.p==='Ti'"}],"layer":[
{"mark":{"type":"rect","fill":"#0000ff","fillOpacity":0.2,"stroke":"#0000ff","strokeOpacity":0.2,"strokeWidth":1.5},"encoding":{"x":{"field":"lo","type":"quantitative","scale":{"domain":[15700.8,15730.4],"nice":false,"zero":false},"title":null},"x2":{"field":"hi"}}},
{"mark":{"type":"rule","color":"#000000","strokeWidth":1.2,"strokeDash":[1.2,2.2]},"encoding":{"x":{"field":"c","type":"quantitative","scale":{"domain":[15700.8,15730.4],"nice":false,"zero":false},"title":null}}},
{"transform":[{"flatten":["x","m","o"]}],"mark":{"type":"line","color":"#ff0000","strokeWidth":2,"interpolate":"monotone","clip":true},"encoding":{"x":{"field":"x","type":"quantitative","scale":{"domain":[15700.8,15730.4],"nice":false,"zero":false},"title":null},"y":{"field":"m","type":"quantitative","scale":{"domain":[0.04,1.192],"nice":false,"zero":false},"title":null,"axis":null}}},
{"transform":[{"flatten":["x","m","o"]}],"mark":{"type":"circle","color":"#000000","opacity":1,"size":7,"clip":true},"encoding":{"x":{"field":"x","type":"quantitative","scale":{"domain":[15700.8,15730.4],"nice":false,"zero":false},"title":null},"y":{"field":"o","type":"quantitative","scale":{"domain":[0.04,1.192],"nice":false,"zero":false},"title":null,"axis":null}}},
{"mark":{"type":"text","fontSize":13.6,"lineHeight":12.2,"baseline":"alphabetic","align":"center","color":"#000000","font":"DejaVu Sans"},"encoding":{"x":{"datum":15710.83,"type":"quantitative","scale":{"domain":[15700.8,15730.4],"nice":false,"zero":false},"title":null},"y":{"datum":0.313,"type":"quantitative","scale":{"domain":[0.04,1.192],"nice":false,"zero":false},"title":null,"axis":null},"text":{"field":"lab","type":"nominal"}}}
]},
{"width":301,"height":128,"transform":[{"filter":"datum.p==='Fe'"}],"layer":[
{"mark":{"type":"rect","fill":"#0000ff","fillOpacity":0.2,"stroke":"#0000ff","strokeOpacity":0.2,"strokeWidth":1.5},"encoding":{"x":{"field":"lo","type":"quantitative","scale":{"domain":[15606.9,15636.5],"nice":false,"zero":false},"title":null},"x2":{"field":"hi"}}},
{"mark":{"type":"rule","color":"#000000","strokeWidth":1.2,"strokeDash":[1.2,2.2]},"encoding":{"x":{"field":"c","type":"quantitative","scale":{"domain":[15606.9,15636.5],"nice":false,"zero":false},"title":null}}},
{"transform":[{"flatten":["x","m","o"]}],"mark":{"type":"line","color":"#ff0000","strokeWidth":2,"interpolate":"monotone","clip":true},"encoding":{"x":{"field":"x","type":"quantitative","scale":{"domain":[15606.9,15636.5],"nice":false,"zero":false},"title":null},"y":{"field":"m","type":"quantitative","scale":{"domain":[0.04,1.192],"nice":false,"zero":false},"title":"Normalized flux","axis":{"labels":false,"ticks":false,"domain":false,"titlePadding":5.4}}}},
{"transform":[{"flatten":["x","m","o"]}],"mark":{"type":"circle","color":"#000000","opacity":1,"size":7,"clip":true},"encoding":{"x":{"field":"x","type":"quantitative","scale":{"domain":[15606.9,15636.5],"nice":false,"zero":false},"title":null},"y":{"field":"o","type":"quantitative","scale":{"domain":[0.04,1.192],"nice":false,"zero":false},"title":"Normalized flux","axis":{"labels":false,"ticks":false,"domain":false,"titlePadding":5.4}}}},
{"mark":{"type":"text","fontSize":13.6,"lineHeight":12.2,"baseline":"alphabetic","align":"center","color":"#000000","font":"DejaVu Sans"},"encoding":{"x":{"datum":15616.93,"type":"quantitative","scale":{"domain":[15606.9,15636.5],"nice":false,"zero":false},"title":null},"y":{"datum":0.313,"type":"quantitative","scale":{"domain":[0.04,1.192],"nice":false,"zero":false},"title":"Normalized flux","axis":{"labels":false,"ticks":false,"domain":false,"titlePadding":5.4}},"text":{"field":"lab","type":"nominal"}}}
]},
{"width":301,"height":128,"transform":[{"filter":"datum.p==='Ni'"}],"layer":[
{"mark":{"type":"rect","fill":"#0000ff","fillOpacity":0.2,"stroke":"#0000ff","strokeOpacity":0.2,"strokeWidth":1.5},"encoding":{"x":{"field":"lo","type":"quantitative","scale":{"domain":[16348.3,16377.9],"nice":false,"zero":false},"title":"wavelenght (Å)"},"x2":{"field":"hi"}}},
{"mark":{"type":"rule","color":"#000000","strokeWidth":1.2,"strokeDash":[1.2,2.2]},"encoding":{"x":{"field":"c","type":"quantitative","scale":{"domain":[16348.3,16377.9],"nice":false,"zero":false},"title":"wavelenght (Å)"}}},
{"transform":[{"flatten":["x","m","o"]}],"mark":{"type":"line","color":"#ff0000","strokeWidth":2,"interpolate":"monotone","clip":true},"encoding":{"x":{"field":"x","type":"quantitative","scale":{"domain":[16348.3,16377.9],"nice":false,"zero":false},"title":"wavelenght (Å)"},"y":{"field":"m","type":"quantitative","scale":{"domain":[0.04,1.192],"nice":false,"zero":false},"title":null,"axis":null}}},
{"transform":[{"flatten":["x","m","o"]}],"mark":{"type":"circle","color":"#000000","opacity":1,"size":7,"clip":true},"encoding":{"x":{"field":"x","type":"quantitative","scale":{"domain":[16348.3,16377.9],"nice":false,"zero":false},"title":"wavelenght (Å)"},"y":{"field":"o","type":"quantitative","scale":{"domain":[0.04,1.192],"nice":false,"zero":false},"title":null,"axis":null}}},
{"mark":{"type":"text","fontSize":13.6,"lineHeight":12.2,"baseline":"alphabetic","align":"center","color":"#000000","font":"DejaVu Sans"},"encoding":{"x":{"datum":16358.43,"type":"quantitative","scale":{"domain":[16348.3,16377.9],"nice":false,"zero":false},"title":"wavelenght (Å)"},"y":{"datum":0.313,"type":"quantitative","scale":{"domain":[0.04,1.192],"nice":false,"zero":false},"title":null,"axis":null},"text":{"field":"lab","type":"nominal"}}}
]},
{"width":301,"height":128,"transform":[{"filter":"datum.p==='Ce'"}],"layer":[
{"mark":{"type":"rect","fill":"#0000ff","fillOpacity":0.2,"stroke":"#0000ff","strokeOpacity":0.2,"strokeWidth":1.5},"encoding":{"x":{"field":"lo","type":"quantitative","scale":{"domain":[16361.7,16391.3],"nice":false,"zero":false},"title":"wavelenght (Å)"},"x2":{"field":"hi"}}},
{"mark":{"type":"rule","color":"#000000","strokeWidth":1.2,"strokeDash":[1.2,2.2]},"encoding":{"x":{"field":"c","type":"quantitative","scale":{"domain":[16361.7,16391.3],"nice":false,"zero":false},"title":"wavelenght (Å)"}}},
{"transform":[{"flatten":["x","m","o"]}],"mark":{"type":"line","color":"#ff0000","strokeWidth":2,"interpolate":"monotone","clip":true},"encoding":{"x":{"field":"x","type":"quantitative","scale":{"domain":[16361.7,16391.3],"nice":false,"zero":false},"title":"wavelenght (Å)"},"y":{"field":"m","type":"quantitative","scale":{"domain":[0.04,1.192],"nice":false,"zero":false},"title":"Normalized flux","axis":{"labels":false,"ticks":false,"domain":false,"titlePadding":5.4}}}},
{"transform":[{"flatten":["x","m","o"]}],"mark":{"type":"circle","color":"#000000","opacity":1,"size":7,"clip":true},"encoding":{"x":{"field":"x","type":"quantitative","scale":{"domain":[16361.7,16391.3],"nice":false,"zero":false},"title":"wavelenght (Å)"},"y":{"field":"o","type":"quantitative","scale":{"domain":[0.04,1.192],"nice":false,"zero":false},"title":"Normalized flux","axis":{"labels":false,"ticks":false,"domain":false,"titlePadding":5.4}}}},
{"mark":{"type":"text","fontSize":13.6,"lineHeight":12.2,"baseline":"alphabetic","align":"center","color":"#000000","font":"DejaVu Sans"},"encoding":{"x":{"datum":16371.9,"type":"quantitative","scale":{"domain":[16361.7,16391.3],"nice":false,"zero":false},"title":"wavelenght (Å)"},"y":{"datum":0.313,"type":"quantitative","scale":{"domain":[0.04,1.192],"nice":false,"zero":false},"title":"Normalized flux","axis":{"labels":false,"ticks":false,"domain":false,"titlePadding":5.4}},"text":{"field":"lab","type":"nominal"}}}
]}
],
"config":{
"font":"DejaVu Sans",
"numberFormat":"d",
"view":{"stroke":"#000000","strokeWidth":1},
"axis":{"grid":false,"domain":false,"labelFont":"DejaVu Sans","labelFontSize":12.8,"labelColor":"#000000","tickColor":"#000000","tickWidth":1,"tickSize":5,"labelPadding":3,"titleFont":"DejaVu Sans","titleFontSize":13.6,"titleFontWeight":"normal","titleColor":"#000000","labelFlush":false,"labelOverlap":false,"tickCount":6},
"axisX":{"titlePadding":9}
}
}
